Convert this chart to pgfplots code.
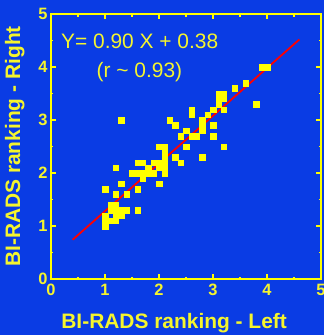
\documentclass[border=0pt]{standalone}
\usepackage{pgfplots}
\pgfplotsset{compat=1.18}
\usepackage{fontspec}
\setmainfont{Liberation Sans}

\definecolor{bgblue}{RGB}{10,60,228}
\definecolor{dotyellow}{RGB}{255,255,0}
\definecolor{txtyellow}{RGB}{245,245,45}
\definecolor{fitred}{RGB}{255,0,0}

\begin{document}
\begin{tikzpicture}
% page area and background
\fill[bgblue] (-51bp,-56bp) rectangle (273bp,279bp);
\path[use as bounding box] (-51bp,-56bp) rectangle (273bp,279bp);
\begin{axis}[
  at={(0,0)}, anchor=south west,
  scale only axis, width=270bp, height=265bp,
  xmin=0, xmax=5, ymin=0, ymax=5,
  xtick={0,1,2,3,4,5}, ytick={0,1,2,3,4,5},
  minor tick num=1,
  tick align=inside,
  major tick length=5bp, minor tick length=2.5bp,
  axis line style={draw=dotyellow, line width=1.8bp},
  every tick/.style={draw=dotyellow, line width=1.3bp},
  /pgf/number format/assume math mode=true,
  ticklabel style={text=txtyellow, font=\fontsize{16.5}{18}\selectfont\bfseries},
  xticklabel style={yshift=-1.5bp},
  xlabel={BI-RADS ranking - Left},
  ylabel={BI-RADS ranking - Right},
  label style={text=txtyellow, font=\fontsize{21}{24}\selectfont\bfseries},
  xlabel style={at={(axis description cs:0.456,-0.186)}, anchor=base},
  ylabel style={at={(axis description cs:-0.1144,0.5)}, anchor=base, rotate=0},
  clip=false,
]
% left vs right rankings
\addplot[only marks, color=dotyellow, mark=square*, mark size=2.75bp,
         mark options={draw=dotyellow, fill=dotyellow, line width=0.2bp}] coordinates {
  (1.0,1.0) (1.0,1.1) (1.0,1.2) (1.1,1.1) (1.2,1.1) (1.1,1.3) (1.2,1.2)
  (1.2,1.3) (1.3,1.2) (1.3,1.3) (1.4,1.3) (1.1,1.4) (1.2,1.4) (1.6,1.3)
  (1.0,1.7) (1.2,1.6) (1.4,1.6) (1.3,1.8) (1.6,1.7) (1.2,2.1) (1.3,3.0)
  (1.5,2.0) (1.6,2.0) (1.7,2.0) (1.8,2.0) (1.9,2.0) (1.7,1.9) (1.6,2.2)
  (1.7,2.2) (1.9,2.2) (1.8,2.1) (2.0,2.1) (2.0,1.8) (2.0,2.2)
  (2.0,2.5) (2.1,2.5) (2.1,2.4) (2.1,2.3) (2.1,2.2) (2.1,2.1) (2.1,2.0)
  (2.2,3.0) (2.3,2.9) (2.3,2.3) (2.4,2.2) (2.4,2.7) (2.5,2.8) (2.5,2.5)
  (2.6,3.2) (2.6,3.1) (2.6,2.7) (2.7,2.7) (2.8,3.0) (2.8,2.9) (2.8,2.8)
  (2.8,2.3) (2.9,3.1) (3.0,3.2) (3.0,2.9) (3.0,2.7)
  (3.1,3.5) (3.2,3.5) (3.1,3.4) (3.2,3.4) (3.1,3.3) (3.2,3.2) (3.2,2.5)
  (3.4,3.6) (3.6,3.7) (3.8,3.3) (3.9,4.0) (4.0,4.0)
};
% regression line Y = 0.90 X + 0.38
\addplot[fitred, line width=1.8bp] coordinates {(0.4,0.74) (4.6,4.52)};
\node[anchor=base west, inner sep=0, text=txtyellow,
      font=\fontsize{21}{24}\selectfont] at (axis cs:0.185,4.34) {Y= 0.90 X + 0.38};
\node[anchor=base west, inner sep=0, text=txtyellow,
      font=\fontsize{21}{24}\selectfont] at (axis cs:0.843,3.80) {(r \textasciitilde{} 0.93)};
\end{axis}
\end{tikzpicture}
\end{document}
